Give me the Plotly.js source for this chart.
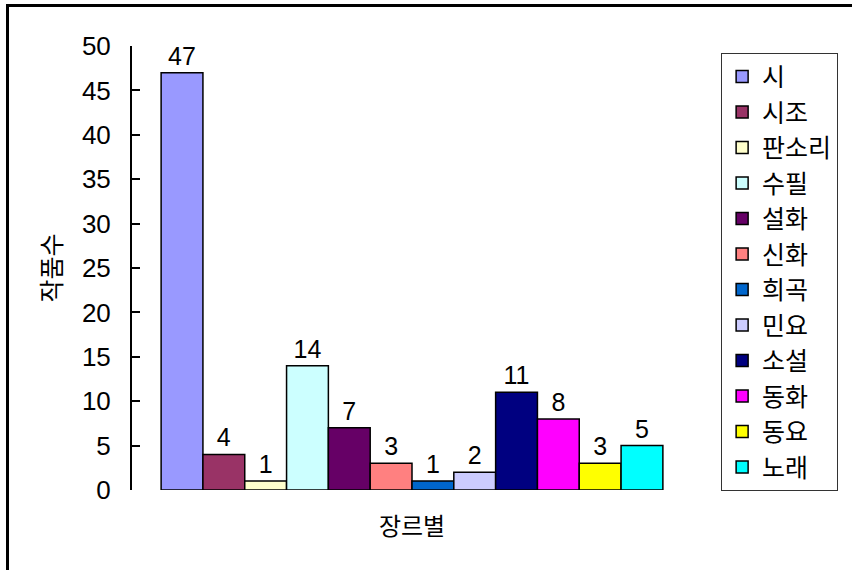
<!DOCTYPE html>
<html>
<head>
<meta charset="utf-8">
<script src="https://cdn.plot.ly/plotly-3.0.1.min.js"></script>
<style>
  html, body { margin: 0; padding: 0; background: #fff; overflow: hidden; }
  #chart { width: 852px; height: 570px; }
  #frame { position: absolute; left: 6px; top: 4px; width: 900px; height: 700px;
           border-top: 3px solid #000; border-left: 3px solid #000; pointer-events: none; }
</style>
</head>
<body>
<div id="chart"></div>
<div id="frame"></div>
<script>
const categories = ['장르별'];
const genres = ['시', '시조', '판소리', '수필', '설화', '신화', '희곡', '민요', '소설', '동화', '동요', '노래'];
const counts = [47, 4, 1, 14, 7, 3, 1, 2, 11, 8, 3, 5];
const colors = ['#9999FF', '#993366', '#FFFFCC', '#CCFFFF', '#660066', '#FF8080',
                '#0066CC', '#CCCCFF', '#000080', '#FF00FF', '#FFFF00', '#00FFFF'];
const yTicks = [0, 5, 10, 15, 20, 25, 30, 35, 40, 45, 50];

const FONT = 'Liberation Sans, "Noto Sans CJK KR", sans-serif';
const KFONT = '"Noto Sans CJK KR", Liberation Sans, sans-serif';

const traces = genres.map((g, i) => ({
  type: 'bar',
  name: g,
  x: categories,
  y: [counts[i]],
  text: [String(counts[i])],
  textposition: 'outside',
  textfont: { family: FONT, size: 25, color: '#000' },
  cliponaxis: false,
  marker: { color: colors[i], line: { color: '#000', width: 1.5 } },
  legendgroup: 'g' + i,
  hoverinfo: 'name+y'
}));

const layout = {
  width: 852, height: 570,
  margin: { l: 132, r: 160, t: 46, b: 80 },
  paper_bgcolor: '#fff', plot_bgcolor: '#fff',
  barmode: 'group',
  bargap: 0.104,
  bargroupgap: 0,
  font: { family: FONT, color: '#000' },
  xaxis: {
    type: 'category',
    showline: false, showgrid: false, zeroline: false, ticks: '',
    tickfont: { family: KFONT, size: 24, color: '#000' },
    ticklabelstandoff: 20
  },
  yaxis: {
    range: [0, 50],
    tickvals: yTicks,
    ticktext: yTicks.map(String),
    showline: true, linecolor: '#000', linewidth: 2,
    ticks: 'inside', ticklen: 8, tickwidth: 2, tickcolor: '#000',
    showgrid: false, zeroline: false,
    tickfont: { family: FONT, size: 26, color: '#000' },
    ticklabelstandoff: 14,
    title: { text: '작품수', font: { family: KFONT, size: 25, color: '#000' }, standoff: 13 }
  },
  showlegend: true,
  legend: {
    x: 1.052, xanchor: 'left', y: 0.985, yanchor: 'top',
    bgcolor: '#fff', bordercolor: '#333', borderwidth: 1,
    font: { family: KFONT, size: 25, color: '#000' },
    tracegroupgap: 0,
    traceorder: 'normal'
  }
};

Plotly.newPlot('chart', traces, layout, { displayModeBar: false, staticPlot: true });
</script>
</body>
</html>
